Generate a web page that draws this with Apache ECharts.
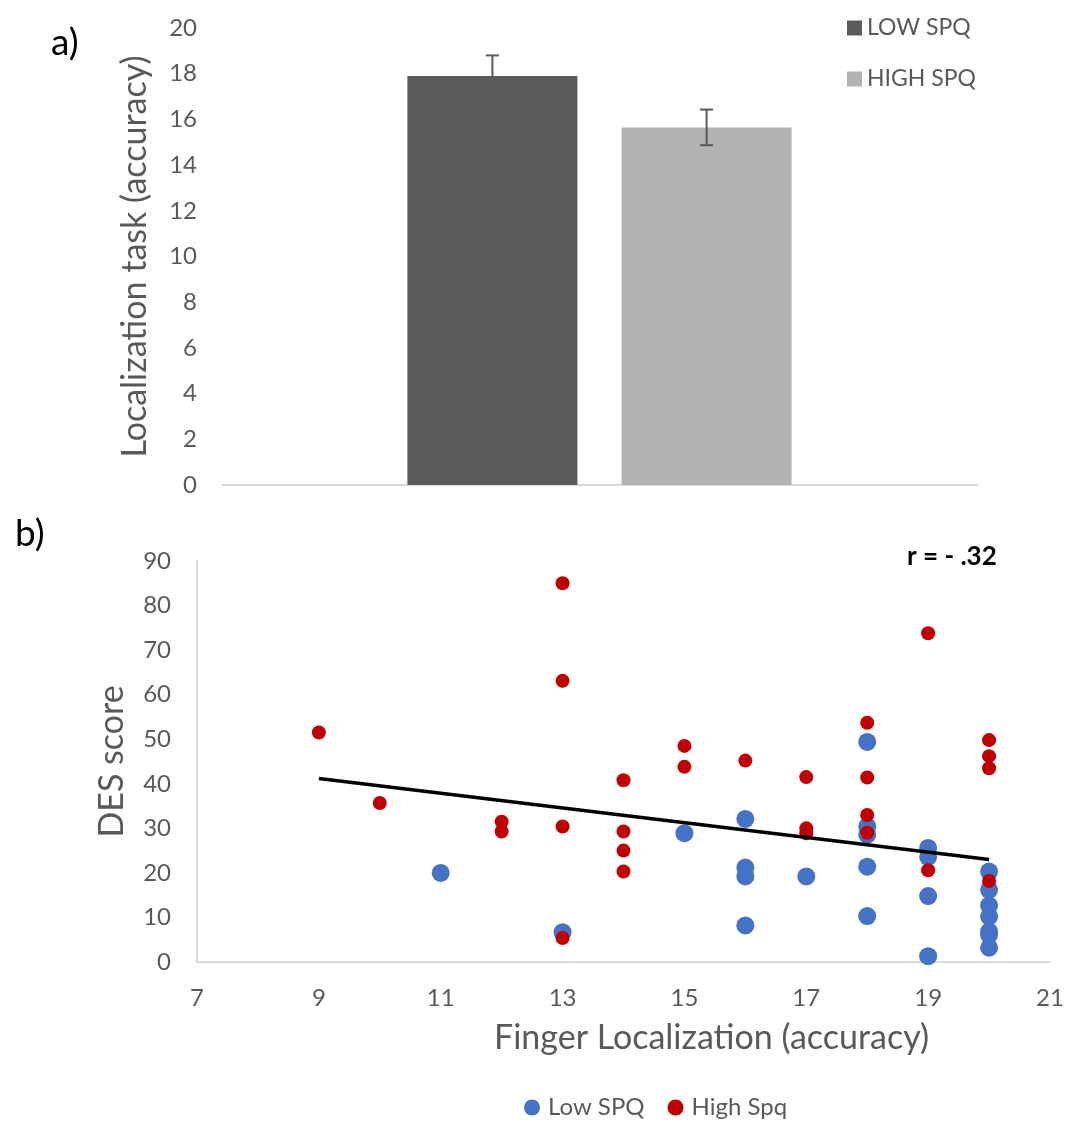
<!DOCTYPE html>
<html>
<head>
<meta charset="utf-8">
<script src="https://cdn.jsdelivr.net/npm/echarts@6/dist/echarts.min.js"></script>
<style>
  html, body { margin: 0; padding: 0; background: #fff; }
  #chart { width: 1069px; height: 1122px; }
</style>
</head>
<body>
<div id="chart"></div>
<script>
// panel a) group means with error bars
var groupNames = ['LOW SPQ', 'HIGH SPQ'];
var groupMeans = [17.9, 15.65];
var groupErrors = [0.9, 0.78];
var barYTicks = { min: 0, max: 20, interval: 2 };

// panel b) DES score vs finger localization, [accuracy, DES]
var lowSpq = [
  [11, 20], [13, 6.7], [15, 28.9], [16, 32.1], [16, 21.2], [16, 19.2], [16, 8.2],
  [17, 19.2], [18, 49.4], [18, 30.4], [18, 28.6], [18, 21.4], [18, 10.3],
  [19, 25.6], [19, 23.6], [19, 14.8], [19, 1.3],
  [20, 20.3], [20, 16.2], [20, 12.7], [20, 10.2], [20, 6.8], [20, 6.1], [20, 3.2]
];
var highSpq = [
  [9, 51.5], [10, 35.7], [12, 31.5], [12, 29.3], [13, 85], [13, 63.1], [13, 30.4], [13, 5.4],
  [14, 40.8], [14, 29.3], [14, 25], [14, 20.3], [15, 48.5], [15, 43.8], [16, 45.2],
  [17, 41.5], [17, 30], [17, 28.9], [18, 53.7], [18, 41.4], [18, 33], [18, 29],
  [19, 73.8], [19, 20.6], [20, 49.8], [20, 46.2], [20, 43.5], [20, 18.2]
];
// fitted trend line end points as drawn
var trendLine = [[9, 41.2], [20, 23.0]];
var scatterXTicks = { min: 7, max: 21, interval: 2 };
var scatterYTicks = { min: 0, max: 90, interval: 10 };

var FONT = 'Lato';
var GREY = '#595959';
var BAR_W = 170;
var BAR_GAP = 0.26;

var option = {
  animation: false,
  textStyle: { fontFamily: FONT },
  title: [
    { text: 'a)', left: 46, top: 20, textStyle: { fontFamily: FONT, fontSize: 37, fontWeight: 'normal', color: '#000' } },
    { text: 'b)', left: 10, top: 511, textStyle: { fontFamily: FONT, fontSize: 37, fontWeight: 'normal', color: '#000' } },
    { text: 'r = - .32', left: 902, top: 539, textStyle: { fontFamily: FONT, fontSize: 26, fontWeight: 'bold', color: '#000' } }
  ],
  legend: [
    {
      data: groupNames,
      orient: 'vertical',
      left: 842, top: 11,
      icon: 'rect',
      itemWidth: 15, itemHeight: 15, itemGap: 27,
      textStyle: { fontFamily: FONT, fontSize: 23, lineHeight: 24, color: GREY, padding: [0, 0, 0, 0] }
    },
    {
      data: ['Low SPQ', 'High Spq'],
      left: 519, top: 1090,
      icon: 'circle',
      itemWidth: 16, itemHeight: 16, itemGap: 23,
      textStyle: { fontFamily: FONT, fontSize: 24, lineHeight: 25, color: GREY, padding: [0, 0, 0, 3] }
    }
  ],
  grid: [
    { left: 222, right: 92, top: 28, bottom: 637 },
    { left: 197, right: 19, top: 561, bottom: 160 }
  ],
  xAxis: [
    {
      gridIndex: 0, type: 'category', data: [''],
      axisLine: { lineStyle: { color: '#d9d9d9', width: 2 } },
      axisTick: { show: false }, axisLabel: { show: false }
    },
    {
      gridIndex: 1, type: 'value',
      min: scatterXTicks.min, max: scatterXTicks.max, interval: scatterXTicks.interval,
      name: 'Finger Localization (accuracy)', nameLocation: 'middle', nameGap: 59,
      nameTextStyle: { fontFamily: FONT, fontSize: 34, color: GREY, padding: [0, 0, 0, 176] },
      axisLine: { lineStyle: { color: '#d9d9d9', width: 2 } },
      axisTick: { show: false }, splitLine: { show: false },
      axisLabel: { fontFamily: FONT, fontSize: 24, color: GREY, margin: 24 }
    }
  ],
  yAxis: [
    {
      gridIndex: 0, type: 'value',
      min: barYTicks.min, max: barYTicks.max, interval: barYTicks.interval,
      name: 'Localization task (accuracy)', nameLocation: 'middle', nameGap: 70,
      nameTextStyle: { fontFamily: FONT, fontSize: 34, color: GREY },
      axisLine: { show: false }, axisTick: { show: false }, splitLine: { show: false },
      axisLabel: { fontFamily: FONT, fontSize: 24, color: GREY, margin: 25 }
    },
    {
      gridIndex: 1, type: 'value',
      min: scatterYTicks.min, max: scatterYTicks.max, interval: scatterYTicks.interval,
      name: 'DES score', nameLocation: 'middle', nameGap: 68,
      nameTextStyle: { fontFamily: FONT, fontSize: 34, color: GREY },
      axisLine: { show: true, lineStyle: { color: '#d9d9d9', width: 2 } },
      axisTick: { show: false }, splitLine: { show: false },
      axisLabel: { fontFamily: FONT, fontSize: 24, color: GREY, margin: 26 }
    }
  ],
  series: [
    {
      name: groupNames[0], type: 'bar', xAxisIndex: 0, yAxisIndex: 0,
      data: [groupMeans[0]], barWidth: BAR_W, barGap: (BAR_GAP * 100) + '%',
      itemStyle: { color: '#5b5b5b' }
    },
    {
      name: groupNames[1], type: 'bar', xAxisIndex: 0, yAxisIndex: 0,
      data: [groupMeans[1]], barWidth: BAR_W,
      itemStyle: { color: '#b3b3b3' }
    },
    {
      // error bars, shifted to sit over each bar
      type: 'custom', xAxisIndex: 0, yAxisIndex: 0, z: 5,
      data: groupMeans.map(function (m, i) { return [0, m - groupErrors[i], m + groupErrors[i], i]; }),
      renderItem: function (params, api) {
        var lo = api.coord([api.value(0), api.value(1)]);
        var hi = api.coord([api.value(0), api.value(2)]);
        var shift = (api.value(3) - 0.5) * BAR_W * (1 + BAR_GAP);
        var x = lo[0] + shift;
        var cap = 6.5;
        var st = { stroke: GREY, lineWidth: 2 };
        return {
          type: 'group',
          children: [
            { type: 'line', shape: { x1: x, y1: lo[1], x2: x, y2: hi[1] }, style: st },
            { type: 'line', shape: { x1: x - cap, y1: lo[1], x2: x + cap, y2: lo[1] }, style: st },
            { type: 'line', shape: { x1: x - cap, y1: hi[1], x2: x + cap, y2: hi[1] }, style: st }
          ]
        };
      }
    },
    {
      name: 'Low SPQ', type: 'scatter', xAxisIndex: 1, yAxisIndex: 1,
      data: lowSpq, symbolSize: 18,
      itemStyle: { color: '#4472c4', opacity: 1 }
    },
    {
      name: 'High Spq', type: 'scatter', xAxisIndex: 1, yAxisIndex: 1,
      data: highSpq, symbolSize: 14,
      itemStyle: { color: '#c00000', opacity: 1 }
    },
    {
      type: 'line', xAxisIndex: 1, yAxisIndex: 1, z: 6,
      data: trendLine, symbol: 'none',
      lineStyle: { color: '#000', width: 3.5 }
    }
  ]
};

var chart = echarts.init(document.getElementById('chart'));
chart.setOption(option);
</script>
</body>
</html>
